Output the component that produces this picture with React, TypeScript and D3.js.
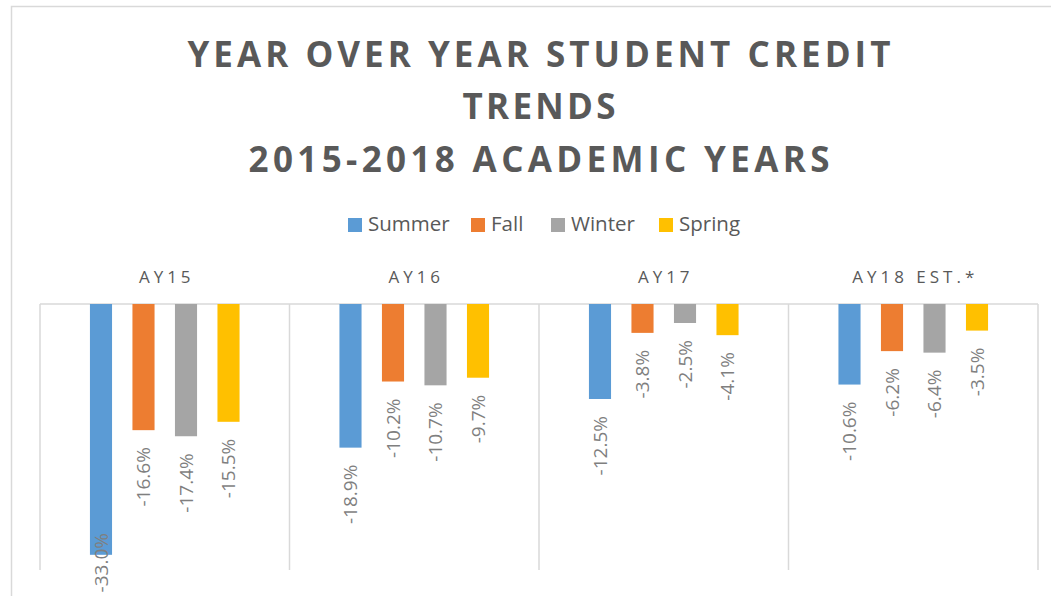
import React from 'react';
import * as d3 from 'd3';

const categories = ['AY15', 'AY16', 'AY17', 'AY18 EST.*'];
const seriesNames = ['Summer', 'Fall', 'Winter', 'Spring'];
const summer = [-33.0, -18.9, -12.5, -10.6];
const fall = [-16.6, -10.2, -3.8, -6.2];
const winter = [-17.4, -10.7, -2.5, -6.4];
const spring = [-15.5, -9.7, -4.1, -3.5];
const seriesValues = [summer, fall, winter, spring];
const seriesColors = ['#5B9BD5', '#ED7D31', '#A5A5A5', '#FFC000'];
const yDomain = [-35, 0];
const titleLines = ['YEAR OVER YEAR STUDENT CREDIT', 'TRENDS', '2015-2018 ACADEMIC YEARS'];

const W = 1051;
const H = 596;
const plotLeft = 40;
const plotRight = 1038;
const plotTop = 304;
const plotBottom = 570;
const gridColor = '#D9D9D9';
const textColor = '#595959';
const labelColor = '#7F7F7F';
const font = '"Open Sans", "Noto Sans", sans-serif';

export default function App() {
  const x = d3.scaleBand<string>().domain(categories).range([plotLeft, plotRight]).padding(0);
  const inner = d3
    .scaleBand<string>()
    .domain(seriesNames)
    .range([0, x.bandwidth()])
    .paddingInner(0.48)
    .paddingOuter(1.175);
  const y = d3.scaleLinear().domain(yDomain).range([plotBottom, plotTop]);

  const titleBaselines = [67, 119, 172];
  const titleLengths = [703, 153, 581];

  const legendX = [348, 471, 551, 659];

  return (
    <svg
      width={W}
      height={H}
      style={{ position: 'absolute', left: 0, top: 0, background: '#fff' }}
      fontFamily={font}
    >
      <rect x={0} y={0} width={W} height={H} fill="#fff" />
      <rect x={11.5} y={6.5} width={1200} height={800} fill="none" stroke={gridColor} strokeWidth={1.5} />

      {titleLines.map((t, i) => (
        <text
          key={t}
          x={539}
          y={titleBaselines[i]}
          textAnchor="middle"
          fontSize={35}
          fontWeight={700}
          fill={textColor}
          textLength={titleLengths[i]}
          lengthAdjust="spacing"
        >
          {t}
        </text>
      ))}

      {seriesNames.map((s, i) => (
        <g key={s}>
          <rect x={legendX[i]} y={218} width={14} height={14} fill={seriesColors[i]} />
          <text x={legendX[i] + 20} y={231} fontSize={20.5} fill={textColor}>
            {s}
          </text>
        </g>
      ))}

      {categories.map((c) => (
        <text
          key={c}
          x={(x(c) as number) + x.bandwidth() / 2 + 2}
          y={283}
          textAnchor="middle"
          fontSize={17}
          letterSpacing={4}
          fill={textColor}
        >
          {c}
        </text>
      ))}

      <line x1={plotLeft} x2={plotRight} y1={y(0)} y2={y(0)} stroke={gridColor} strokeWidth={1.5} />
      {[...categories.map((c) => x(c) as number), plotRight].map((xv, i) => (
        <line key={i} x1={xv} x2={xv} y1={plotTop} y2={plotBottom} stroke={gridColor} strokeWidth={1.5} />
      ))}

      {categories.map((c, ci) => (
        <g key={c} transform={`translate(${x(c)},0)`}>
          {seriesNames.map((s, si) => {
            const v = seriesValues[si][ci];
            const bx = inner(s) as number;
            const bw = inner.bandwidth();
            const yEnd = y(v);
            const labelEnd = Math.min(yEnd + 17, 533);
            return (
              <g key={s}>
                <rect x={bx} y={y(0)} width={bw} height={yEnd - y(0)} fill={seriesColors[si]} />
                <text
                  transform={`translate(${bx + bw / 2},${labelEnd}) rotate(-90)`}
                  textAnchor="end"
                  dy="0.36em"
                  fontSize={19}
                  fill={labelColor}
                >
                  {v.toFixed(1) + '%'}
                </text>
              </g>
            );
          })}
        </g>
      ))}
    </svg>
  );
}
